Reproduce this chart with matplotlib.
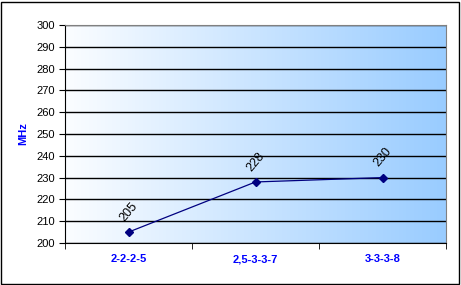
import numpy as np
import matplotlib
matplotlib.use("Agg")
import matplotlib.pyplot as plt
from matplotlib.colors import LinearSegmentedColormap
from matplotlib.patches import Rectangle

categories = ["2-2-2-5", "2,5-3-3-7", "3-3-3-8"]
values = [205, 228, 230]
y_ticks = list(range(200, 301, 10))

plt.rcParams['font.family'] = ['Liberation Sans', 'DejaVu Sans']

fig = plt.figure(figsize=(4.61, 2.85), dpi=100)
ax = fig.add_axes([65/461, 1-243/285, (446-65)/461, (243-25)/285])

# background gradient white -> light blue
cmap = LinearSegmentedColormap.from_list("bg", ["#fbfdff", "#99ccff"], N=256)
grad = np.linspace(0, 1, 256).reshape(1, -1)
ax.imshow(grad, cmap=cmap, aspect="auto", extent=[0, 3, 200, 300], zorder=0)

ax.set_xlim(0, 3)
ax.set_ylim(200, 300)
ax.set_yticks(y_ticks)
ax.yaxis.grid(True, color="black", linewidth=1)
for gl in ax.get_ygridlines():
    gl.set_zorder(1)

x = np.arange(len(categories)) + 0.5
ax.plot(x, values, color="#000080", linewidth=0.9, marker="D", markersize=4, zorder=3)
for xi, v in zip(x, values):
    ax.annotate(str(v), (xi, v), xytext=(0, 6), textcoords="offset points",
                rotation=50, ha="center", va="bottom", fontsize=9, zorder=4)

ax.set_xticks(x)
ax.set_xticklabels(categories, color="#0000ff", fontweight="bold", fontsize=8)
ax.tick_params(axis="x", which="major", length=0, pad=8)
ax.set_xticks([0, 1, 2, 3], minor=True)
ax.tick_params(axis="x", which="minor", length=4, direction="out", color="black")
ax.tick_params(axis="y", length=4, direction="out", labelsize=8, pad=3)

ax.set_ylabel("MHz", color="#0000ff", fontweight="bold", fontsize=8, labelpad=6)

for s in ["top", "right"]:
    ax.spines[s].set_color("#808080")
ax.spines["left"].set_color("black")
ax.spines["bottom"].set_color("black")

fig.patches.append(Rectangle((1/461, 1/285), 458/461, 282/285, transform=fig.transFigure,
                             fill=False, edgecolor="black", linewidth=1))

fig.savefig("out.png", dpi=100)
